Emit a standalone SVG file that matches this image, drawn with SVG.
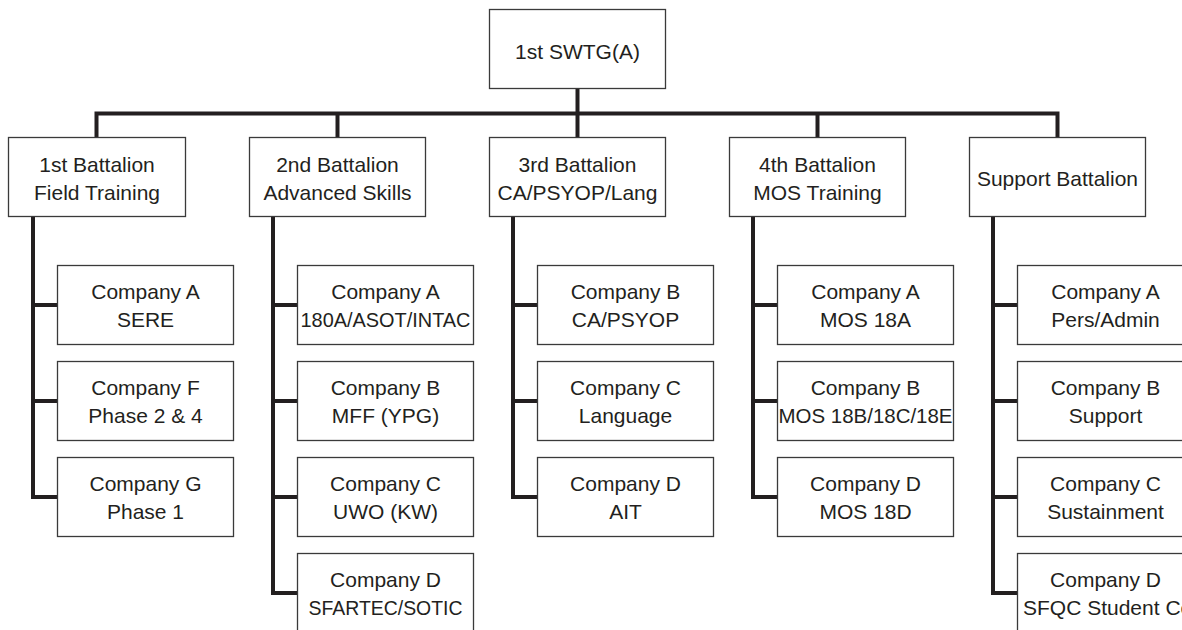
<svg xmlns="http://www.w3.org/2000/svg" width="1182" height="630" viewBox="0 0 1182 630">
<style>
.box{fill:#fff;stroke:#3a3a3a;stroke-width:1.3}
.t{font-family:"Liberation Sans",Arial,sans-serif;font-size:21px;fill:#231f20;text-anchor:middle}
.ln{fill:none;stroke:#231f20;stroke-width:4;stroke-linejoin:miter;stroke-linecap:butt}
</style>
<rect width="1182" height="630" fill="#fff"/>
<g id="connectors">
<path class="ln" d="M577.5,89 V137"/>
<path class="ln" d="M96.5,137 V113.5 H1057.5 V137"/>
<path class="ln" d="M337.5,113.5 V137"/>
<path class="ln" d="M817.5,113.5 V137"/>
<path class="ln" d="M33,217 V497 H57 M33,305 H57 M33,401 H57"/>
<path class="ln" d="M273,217 V593 H297 M273,305 H297 M273,401 H297 M273,497 H297"/>
<path class="ln" d="M513,217 V497 H537 M513,305 H537 M513,401 H537"/>
<path class="ln" d="M753,217 V497 H777 M753,305 H777 M753,401 H777"/>
<path class="ln" d="M993,217 V593 H1017 M993,305 H1017 M993,401 H1017 M993,497 H1017"/>
</g>
<g id="swtg"><rect class="box" x="489.5" y="9.5" width="176" height="79"/><text class="t" x="577.5" y="59">1st SWTG(A)</text></g>
<g id="bn1"><rect class="box" x="8.5" y="137.5" width="177" height="79"/><text class="t" x="97" y="172">1st Battalion</text><text class="t" x="97" y="200">Field Training</text></g>
<g id="bn2"><rect class="box" x="249.5" y="137.5" width="176" height="79"/><text class="t" x="337.5" y="172">2nd Battalion</text><text class="t" x="337.5" y="200">Advanced Skills</text></g>
<g id="bn3"><rect class="box" x="489.5" y="137.5" width="176" height="79"/><text class="t" x="577.5" y="172">3rd Battalion</text><text class="t" x="577.5" y="200">CA/PSYOP/Lang</text></g>
<g id="bn4"><rect class="box" x="729.5" y="137.5" width="176" height="79"/><text class="t" x="817.5" y="172">4th Battalion</text><text class="t" x="817.5" y="200">MOS Training</text></g>
<g id="bn5"><rect class="box" x="969.5" y="137.5" width="176" height="79"/><text class="t" x="1057.5" y="186">Support Battalion</text></g>

<g id="bn1-a"><rect class="box" x="57.5" y="265.5" width="176" height="79"/><text class="t" x="145.5" y="299">Company A</text><text class="t" x="145.5" y="327">SERE</text></g>
<g id="bn1-f"><rect class="box" x="57.5" y="361.5" width="176" height="79"/><text class="t" x="145.5" y="395">Company F</text><text class="t" x="145.5" y="423">Phase 2 &amp; 4</text></g>
<g id="bn1-g"><rect class="box" x="57.5" y="457.5" width="176" height="79"/><text class="t" x="145.5" y="491">Company G</text><text class="t" x="145.5" y="519">Phase 1</text></g>

<g id="bn2-a"><rect class="box" x="297.5" y="265.5" width="176" height="79"/><text class="t" x="385.5" y="299">Company A</text><text class="t" x="385.5" y="327" textLength="170" lengthAdjust="spacingAndGlyphs">180A/ASOT/INTAC</text></g>
<g id="bn2-b"><rect class="box" x="297.5" y="361.5" width="176" height="79"/><text class="t" x="385.5" y="395">Company B</text><text class="t" x="385.5" y="423">MFF (YPG)</text></g>
<g id="bn2-c"><rect class="box" x="297.5" y="457.5" width="176" height="79"/><text class="t" x="385.5" y="491">Company C</text><text class="t" x="385.5" y="519">UWO (KW)</text></g>
<g id="bn2-d"><rect class="box" x="297.5" y="553.5" width="176" height="79"/><text class="t" x="385.5" y="587">Company D</text><text class="t" x="385.5" y="615" textLength="154" lengthAdjust="spacingAndGlyphs">SFARTEC/SOTIC</text></g>

<g id="bn3-b"><rect class="box" x="537.5" y="265.5" width="176" height="79"/><text class="t" x="625.5" y="299">Company B</text><text class="t" x="625.5" y="327">CA/PSYOP</text></g>
<g id="bn3-c"><rect class="box" x="537.5" y="361.5" width="176" height="79"/><text class="t" x="625.5" y="395">Company C</text><text class="t" x="625.5" y="423">Language</text></g>
<g id="bn3-d"><rect class="box" x="537.5" y="457.5" width="176" height="79"/><text class="t" x="625.5" y="491">Company D</text><text class="t" x="625.5" y="519">AIT</text></g>

<g id="bn4-a"><rect class="box" x="777.5" y="265.5" width="176" height="79"/><text class="t" x="865.5" y="299">Company A</text><text class="t" x="865.5" y="327">MOS 18A</text></g>
<g id="bn4-b"><rect class="box" x="777.5" y="361.5" width="176" height="79"/><text class="t" x="865.5" y="395">Company B</text><text class="t" x="865.5" y="423" textLength="174" lengthAdjust="spacingAndGlyphs">MOS 18B/18C/18E</text></g>
<g id="bn4-d"><rect class="box" x="777.5" y="457.5" width="176" height="79"/><text class="t" x="865.5" y="491">Company D</text><text class="t" x="865.5" y="519">MOS 18D</text></g>

<g id="bn5-a"><rect class="box" x="1017.5" y="265.5" width="176" height="79"/><text class="t" x="1105.5" y="299">Company A</text><text class="t" x="1105.5" y="327">Pers/Admin</text></g>
<g id="bn5-b"><rect class="box" x="1017.5" y="361.5" width="176" height="79"/><text class="t" x="1105.5" y="395">Company B</text><text class="t" x="1105.5" y="423">Support</text></g>
<g id="bn5-c"><rect class="box" x="1017.5" y="457.5" width="176" height="79"/><text class="t" x="1105.5" y="491">Company C</text><text class="t" x="1105.5" y="519">Sustainment</text></g>
<g id="bn5-d"><rect class="box" x="1017.5" y="553.5" width="176" height="79"/><text class="t" x="1105.5" y="587">Company D</text><text class="t" x="1023" y="615" style="text-anchor:start">SFQC Student Co</text></g>
</svg>
